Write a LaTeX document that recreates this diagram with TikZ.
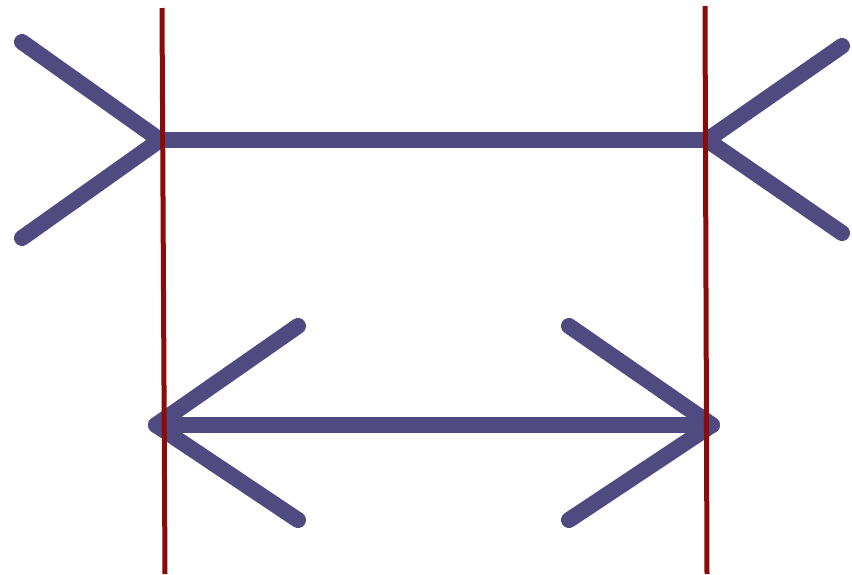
\documentclass[tikz,border=0pt]{standalone}
\begin{document}
\begin{tikzpicture}[x=1pt,y=-1pt,
  fin/.style={draw=finc,line width=16pt,line cap=round,line join=round},
  guide/.style={draw=guidec,line width=5pt}]
\definecolor{finc}{HTML}{4F4B80}
\definecolor{guidec}{HTML}{8B0A0A}
\useasboundingbox[fill=white] (0,0) rectangle (852,574);
% top figure (fins outward)
\coordinate (tl) at (160,140);
\coordinate (tr) at (707,140);
\coordinate (tla) at (22,42);
\coordinate (tlb) at (22,238);
\coordinate (tra) at (842,46);
\coordinate (trb) at (842,233);
\draw[fin] (tl) -- (tr);
\draw[fin] (tla) -- (tl) -- (tlb);
\draw[fin] (tra) -- (tr) -- (trb);
% bottom figure (arrowheads)
\coordinate (bl) at (156,425);
\coordinate (br) at (712,425);
\coordinate (bla) at (298,326);
\coordinate (blb) at (298,520);
\coordinate (bra) at (569,326);
\coordinate (brb) at (569,520);
\draw[fin] (bl) -- (br);
\draw[fin] (bla) -- (bl) -- (blb);
\draw[fin] (bra) -- (br) -- (brb);
% red guide lines
\coordinate (g1a) at (162,8);
\coordinate (g1b) at (165,574);
\coordinate (g2a) at (705,6);
\coordinate (g2b) at (707,574);
\draw[guide] (g1a) -- (g1b);
\draw[guide] (g2a) -- (g2b);
\end{tikzpicture}
\end{document}
